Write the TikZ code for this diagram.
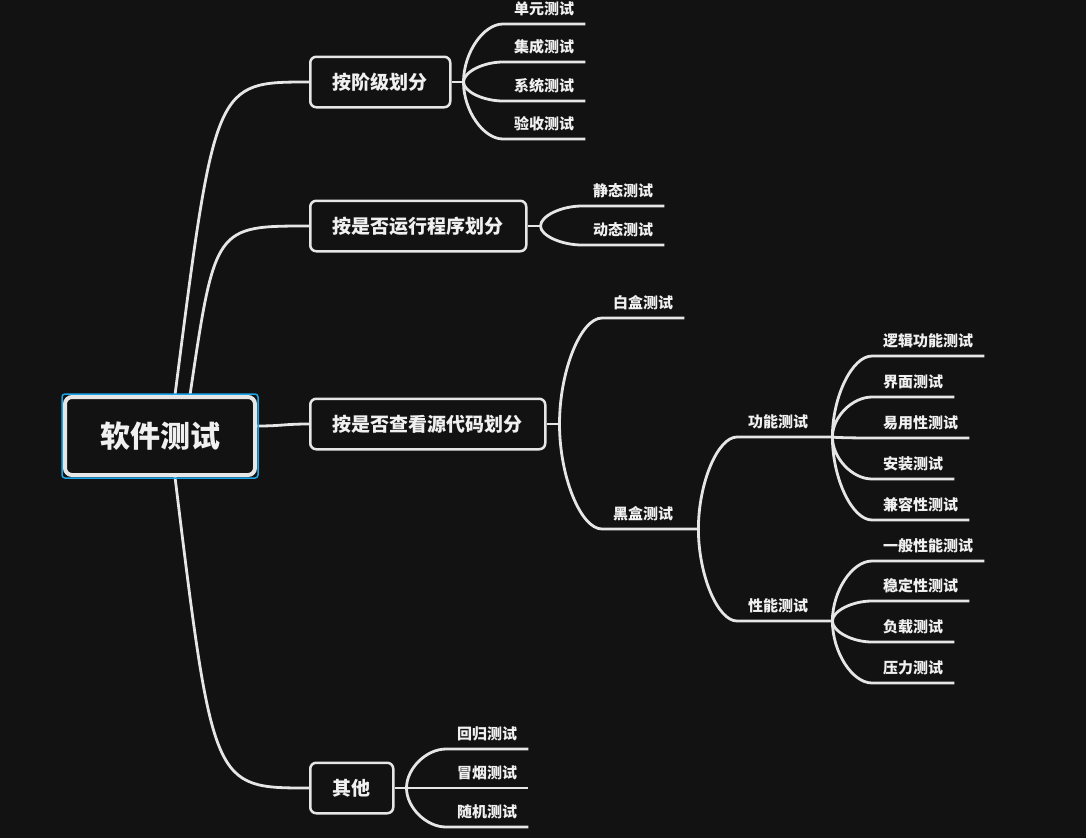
\documentclass[tikz,border=0pt]{standalone}
\usepackage{fontspec}
\setmainfont{Noto Sans CJK SC}
\usepackage{xcolor}
\definecolor{bgdark}{HTML}{121212}
\definecolor{linegray}{HTML}{E6E6E6}
\definecolor{textwhite}{HTML}{F0F0F0}
\definecolor{selblue}{HTML}{1FA3E8}
\usepackage{tikz}
\usetikzlibrary{fit,calc}

\begin{document}
\begin{tikzpicture}[
  x=1pt, y=-1pt,
  rootbox/.style={draw=linegray, line width=4pt, rounded corners=7pt, fill=bgdark,
                  text=textwhite, font=\fontsize{30}{30}\selectfont\bfseries,
                  inner xsep=35pt, minimum height=78pt},
  sel/.style={draw=selblue, line width=1.5pt, rounded corners=3pt, inner sep=1pt},
  topic/.style={draw=linegray, line width=2.5pt, rounded corners=6pt, fill=bgdark,
                text=textwhite, font=\fontsize{19}{19}\selectfont\bfseries,
                inner xsep=22.5pt, minimum height=50.5pt, anchor=west},
  leaf/.style={anchor=south west, text=textwhite, font=\fontsize{15}{15}\selectfont\bfseries,
               inner xsep=11pt, inner ysep=0pt, text height=12pt, text depth=9.5pt},
  link/.style={draw=linegray, line width=2.8pt},
  elbow/.style={to path={.. controls ($(\tikztostart)!0.5!(\tikztostart |- \tikztotarget)$)
                and ($(\tikztostart |- \tikztotarget)!0.5!(\tikztotarget)$) .. (\tikztotarget)}}
]
\path[use as bounding box, fill=bgdark] (0,0) rectangle (1086,838);
% main topics
\node[rootbox] (root) at (160,436) {软件测试};
\node[topic] (b1) at (309,82) {按阶级划分};
\node[topic] (b2) at (309,226) {按是否运行程序划分};
\node[topic] (b3) at (309,424) {按是否查看源代码划分};
\node[topic] (b4) at (309,788) {其他};
\coordinate (f1) at ([xshift=12pt]b1.east);
\coordinate (f2) at ([xshift=13pt]b2.east);
\coordinate (f3) at ([xshift=13pt]b3.east);
\coordinate (f4) at ([xshift=12pt]b4.east);
% leaves
\node[leaf] (b1a) at (503,24) {单元测试};
\node[leaf] (b1b) at (503,62) {集成测试};
\node[leaf] (b1c) at (503,101) {系统测试};
\node[leaf] (b1d) at (503,139) {验收测试};
\node[leaf] (b2a) at (582,206) {静态测试};
\node[leaf] (b2b) at (582,245) {动态测试};
\node[leaf] (b3a) at (602,318) {白盒测试};
\node[leaf] (b3b) at (602,529) {黑盒测试};
\coordinate (f5) at ([xshift=14pt]b3b.south east);
\node[leaf] (c1) at (737,437) {功能测试};
\node[leaf] (c2) at (737,621) {性能测试};
\coordinate (f6) at ([xshift=13pt]c1.south east);
\coordinate (f7) at ([xshift=13pt]c2.south east);
\node[leaf] (c1a) at (872,356) {逻辑功能测试};
\node[leaf] (c1b) at (872,397) {界面测试};
\node[leaf] (c1c) at (872,438) {易用性测试};
\node[leaf] (c1d) at (872,479) {安装测试};
\node[leaf] (c1e) at (872,520) {兼容性测试};
\node[leaf] (c2a) at (872,561) {一般性能测试};
\node[leaf] (c2b) at (872,601) {稳定性测试};
\node[leaf] (c2c) at (872,642) {负载测试};
\node[leaf] (c2d) at (872,683) {压力测试};
\node[leaf] (b4a) at (446,749) {回归测试};
\node[leaf] (b4b) at (446,788) {冒烟测试};
\node[leaf] (b4c) at (446,827) {随机测试};
% root links
\draw[link] ([xshift=15pt]root.north) .. controls ($(b1.west)+(-94,0)$) .. (b1.west);
\draw[link] ([xshift=30pt]root.north) .. controls ($(b2.west)+(-94,0)$) .. (b2.west);
\draw[link] ([yshift=10pt]root.east) .. controls +(25,0) and +(-25,0) .. (b3.west);
\draw[link] ([xshift=15pt]root.south) .. controls ($(b4.west)+(-96,0)$) .. (b4.west);
\node[sel, fit=(root)] (rootsel) {};
% topic links
\draw[link] (b1.east) -- (f1);
\draw[link, elbow] (f1) to (b1a.south west) -- (b1a.south east);
\draw[link, elbow] (f1) to (b1b.south west) -- (b1b.south east);
\draw[link, elbow] (f1) to (b1c.south west) -- (b1c.south east);
\draw[link, elbow] (f1) to (b1d.south west) -- (b1d.south east);
\draw[link] (b2.east) -- (f2);
\draw[link, elbow] (f2) to (b2a.south west) -- (b2a.south east);
\draw[link, elbow] (f2) to (b2b.south west) -- (b2b.south east);
\draw[link] (b3.east) -- (f3);
\draw[link, elbow] (f3) to (b3a.south west) -- (b3a.south east);
\draw[link, elbow] (f3) to (b3b.south west) -- (b3b.south east) -- (f5);
\draw[link, elbow] (f5) to (c1.south west) -- (c1.south east) -- (f6);
\draw[link, elbow] (f5) to (c2.south west) -- (c2.south east) -- (f7);
\draw[link, elbow] (f6) to (c1a.south west) -- (c1a.south east);
\draw[link, elbow] (f6) to (c1b.south west) -- (c1b.south east);
\draw[link, elbow] (f6) to (c1c.south west) -- (c1c.south east);
\draw[link, elbow] (f6) to (c1d.south west) -- (c1d.south east);
\draw[link, elbow] (f6) to (c1e.south west) -- (c1e.south east);
\draw[link, elbow] (f7) to (c2a.south west) -- (c2a.south east);
\draw[link, elbow] (f7) to (c2b.south west) -- (c2b.south east);
\draw[link, elbow] (f7) to (c2c.south west) -- (c2c.south east);
\draw[link, elbow] (f7) to (c2d.south west) -- (c2d.south east);
\draw[link] (b4.east) -- (f4);
\draw[link, elbow] (f4) to (b4a.south west) -- (b4a.south east);
\draw[link, elbow] (f4) to (b4b.south west) -- (b4b.south east);
\draw[link, elbow] (f4) to (b4c.south west) -- (b4c.south east);
\end{tikzpicture}
\end{document}
